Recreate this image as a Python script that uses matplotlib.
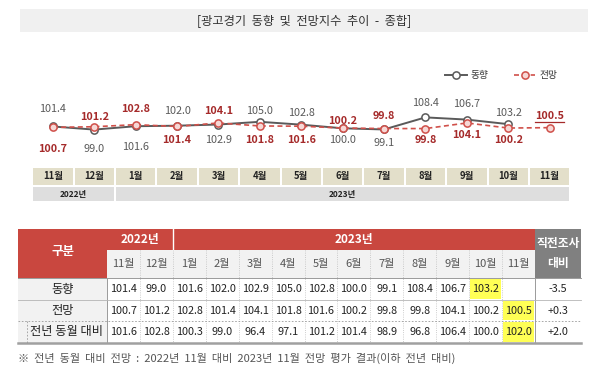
import matplotlib
matplotlib.use('Agg')
import matplotlib.pyplot as plt
import numpy as np
from matplotlib.patches import Rectangle

plt.rcParams['font.family'] = ['Noto Sans CJK KR', 'DejaVu Sans']

# data
months = ['11월', '12월', '1월', '2월', '3월', '4월', '5월', '6월', '7월', '8월', '9월', '10월', '11월']
years = ['2022년', '2023년']
year_span = [2, 11]
trend = [101.4, 99.0, 101.6, 102.0, 102.9, 105.0, 102.8, 100.0, 99.1, 108.4, 106.7, 103.2, np.nan]
outlook = [100.7, 101.2, 102.8, 101.4, 104.1, 101.8, 101.6, 100.2, 99.8, 99.8, 104.1, 100.2, 100.5]
yoy = [101.6, 102.8, 100.3, 99.0, 96.4, 97.1, 101.2, 101.4, 98.9, 96.8, 106.4, 100.0, 102.0]
row_names = ['동향', '전망', '전년 동월 대비']
diff = ['-3.5', '+0.3', '+2.0']
# (row, column) cells highlighted yellow
highlight = [(0, 11), (1, 12), (2, 12)]

# label offsets in pixels (+ = below the point)
trend_off = [-17.5, 19.5, 21, -15, 15.5, -11, -12, 12, 13.5, -14, -15.5, -11, 0]
outlook_off = [21.5, -10, -16, 13.5, -12, 14, 14, -7, -12.5, 11.5, 12, 12, -11.5]

GRAY = '#5a5a5a'
RED = '#d0504a'
DARKRED = '#a52a2a'
TRED = '#c9473f'

W, H = 600, 381
fig = plt.figure(figsize=(6, 3.81), dpi=100)


def fax(x0, y0, x1, y1):
    return fig.add_axes([x0 / W, 1 - y1 / H, (x1 - x0) / W, (y1 - y0) / H])


bg = fax(0, 0, W, H)
bg.set_xlim(0, W)
bg.set_ylim(H, 0)
bg.axis('off')

# title band
bg.add_patch(Rectangle((20, 9), 568, 23, color='#f0f0f0', lw=0))
bg.text(304, 21, '[광고경기  동향  및  전망지수  추이  -  종합]', ha='center', va='center',
        fontsize=8.8, color='#333333')

# line chart
X0, STEP = 32.1, 41.4
n = len(months)
ax = fax(X0, 95, X0 + n * STEP, 160)
ax.set_xlim(-0.5, n - 0.5)
ax.set_ylim(101 - 33 / 1.3, 101 + 32 / 1.3)
ax.axis('off')
ax.patch.set_alpha(0)

x = np.arange(n)
l1, = ax.plot(x, trend, color=GRAY, lw=1.4, marker='o', ms=5.2, mfc='white',
              mec=GRAY, mew=1.1, zorder=3)
l2, = ax.plot(x, outlook, color=RED, lw=1.2, ls=(0, (3, 2)), marker='o', ms=5.2,
              mfc='#f6d8d6', mec=RED, mew=1.1, zorder=4)

for i in range(n):
    if not np.isnan(trend[i]):
        ax.annotate(f'{trend[i]:.1f}', (x[i], trend[i]), xytext=(0, -trend_off[i] * 0.72),
                    textcoords='offset points', ha='center', va='center',
                    fontsize=7.8, color=GRAY)
last = None
for i in range(n):
    last = ax.annotate(f'{outlook[i]:.1f}', (x[i], outlook[i]), xytext=(0, -outlook_off[i] * 0.72),
                       textcoords='offset points', ha='center', va='center',
                       fontsize=7.8, color=DARKRED, fontweight='bold')

fig.legend(handles=[l1, l2], labels=['동향', '전망'], ncol=2, loc='center right',
           bbox_to_anchor=(566 / W, 1 - 75 / H), frameon=False, fontsize=7,
           handlelength=2.2, columnspacing=2.6, handletextpad=0.4,
           labelcolor='#333333')

# month boxes and year row
for i, m in enumerate(months):
    bg.add_patch(Rectangle((X0 + STEP * i + 1, 168), STEP - 2, 17, color='#e3dfca', lw=0))
    bg.text(X0 + STEP * (i + 0.5), 176.5, m, ha='center', va='center', fontsize=6.8,
            fontweight='bold', color='#222222')
start = 0
for yr, span in zip(years, year_span):
    bx0 = X0 + STEP * start + 1
    bx1 = X0 + STEP * (start + span) - 1
    bg.add_patch(Rectangle((bx0, 187), bx1 - bx0, 14, color='#dedede', lw=0))
    bg.text((bx0 + bx1) / 2, 194, yr, ha='center', va='center', fontsize=6,
            fontweight='bold', color='#222222')
    start += span

# table
TL, TC0, TC1, TR = 18, 107, 535, 581
cw = (TC1 - TC0) / n
rows_y = [229, 250, 278, 300, 321, 343]

# header
bg.add_patch(Rectangle((TL, rows_y[0]), TC1 - TL, rows_y[2] - rows_y[0], color=TRED, lw=0))
bg.add_patch(Rectangle((TC0, rows_y[1]), TC1 - TC0, rows_y[2] - rows_y[1], color='#f2f2f2', lw=0))
bg.add_patch(Rectangle((TC1, rows_y[0]), TR - TC1, rows_y[2] - rows_y[0], color='#808080', lw=0))
bg.text((TL + TC0) / 2, 252, '구분', ha='center', va='center', fontsize=9,
        fontweight='bold', color='white')
start = 0
for yr, span in zip(years, year_span):
    cx = TC0 + cw * (start + span / 2)
    bg.text(cx, 239.5, yr, ha='center', va='center', fontsize=8.5,
            fontweight='bold', color='white')
    start += span
bg.plot([TC0 + cw * year_span[0]] * 2, [rows_y[0], rows_y[1]], color='white', lw=1)
bg.text((TC1 + TR) / 2, 244, '직전조사', ha='center', va='center', fontsize=8.5,
        fontweight='bold', color='white')
bg.text((TC1 + TR) / 2, 264, '대비', ha='center', va='center', fontsize=8.5,
        fontweight='bold', color='white')
for j, m in enumerate(months):
    bg.text(TC0 + cw * (j + 0.5), 264, m, ha='center', va='center', fontsize=8,
            color='#555555')

# body
for r, (name, vals) in enumerate(zip(row_names, [trend, outlook, yoy])):
    y0, y1 = rows_y[r + 2], rows_y[r + 3]
    yc = (y0 + y1) / 2
    bg.add_patch(Rectangle((TL, y0), TC0 - TL, y1 - y0, color='#f2f2f2', lw=0))
    bg.text((TL + TC0) / 2 + (4 if r == 2 else 0), yc, name, ha='center', va='center',
            fontsize=8.8, color='#222222')
    for j, v in enumerate(vals):
        if (r, j) in highlight:
            bg.add_patch(Rectangle((TC0 + cw * j + 1, y0 + 1), cw - 2, y1 - y0 - 2,
                                   color='#ffff55', lw=0))
        if not np.isnan(v):
            bg.text(TC0 + cw * (j + 0.5), yc, f'{v:.1f}', ha='center', va='center',
                    fontsize=7.8, color='#222222')
    bg.text((TC1 + TR) / 2, yc, diff[r], ha='center', va='center', fontsize=7.8,
            color='#222222')

# grid lines
for j in range(1, n):
    bg.plot([TC0 + cw * j] * 2, [rows_y[1], rows_y[5]], color='#bdbdbd', lw=0.6, ls=':')
bg.plot([TC0, TC0], [rows_y[2], rows_y[5]], color='#9a9a9a', lw=0.7)
bg.plot([TC1, TC1], [rows_y[2], rows_y[5]], color='#9a9a9a', lw=0.7)
bg.plot([TL, TR], [rows_y[2], rows_y[2]], color='#9a9a9a', lw=0.7)
bg.plot([TL, TR], [rows_y[3], rows_y[3]], color='#b5b5b5', lw=0.6)
bg.plot([TL, TR], [rows_y[4], rows_y[4]], color='#9a9a9a', lw=0.6, ls=(0, (2, 2)))
bg.plot([TL, TR], [rows_y[5], rows_y[5]], color='#a0a0a0', lw=1.8)
bg.plot([27, 27], [rows_y[4], rows_y[5]], color='#9a9a9a', lw=0.6, ls=(0, (2, 2)))

# footnote
bg.text(18, 358, '※  전년  동월  대비  전망  :  2022년  11월  대비  2023년  11월  전망  평가  결과(이하  전년  대비)',
        ha='left', va='center', fontsize=8, color='#555555')

# underline last outlook label
fig.canvas.draw()
bb = last.get_window_extent()
bg.plot([bb.x0, bb.x1], [H - bb.y0 + 0.5] * 2, color=DARKRED, lw=0.9)

fig.savefig('out.png', dpi=100, facecolor='white')
